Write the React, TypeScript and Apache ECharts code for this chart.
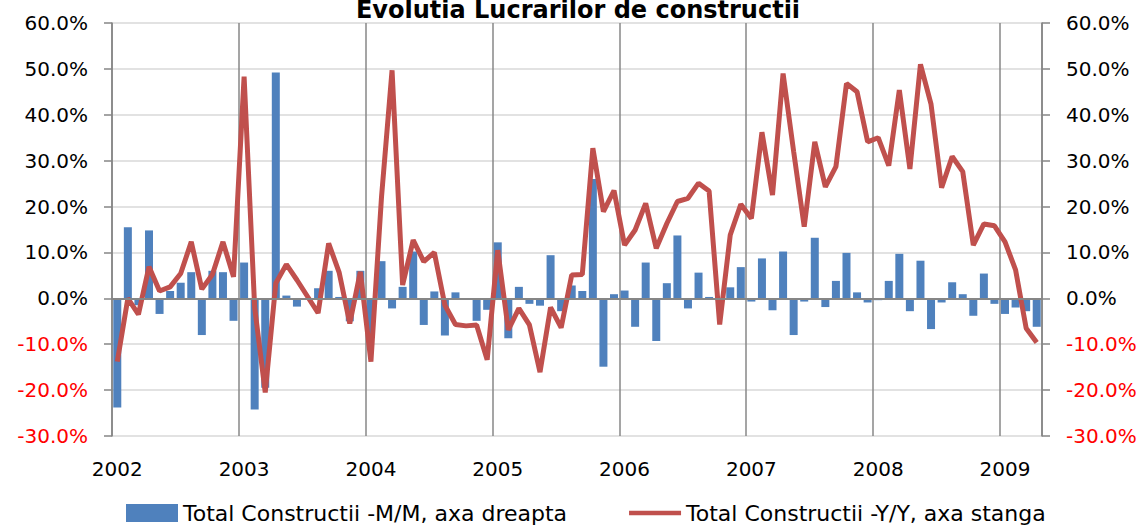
import React, { useEffect, useRef } from "react";
import * as echarts from "echarts";

const years = [2002, 2003, 2004, 2005, 2006, 2007, 2008, 2009];
const monthsInLastYear = 4;

// Total Constructii -M/M (right axis), percent, Jan 2002 .. Apr 2009
const mmValues = [
  -23.8, 15.5, -1.5, 14.8, -3.4, 1.6, 3.4, 5.7, -8.0, 6.0, 5.7, -4.9,
  7.8, -24.2, -19.5, 49.2, 0.6, -1.8, -0.3, 2.2, 6.0, 0.3, -5.0, 6.0,
  -8.0, 8.1, -2.2, 2.5, 10.2, -5.8, 1.5, -8.1, 1.3, 0.0, -4.9, -2.5,
  12.2, -8.7, 2.5, -1.2, -1.6, 9.4, -2.8, 2.8, 1.6, 26.0, -14.9, 0.9,
  1.7, -6.2, 7.8, -9.3, 3.3, 13.7, -2.2, 5.6, 0.3, -0.5, 2.4, 6.8,
  -0.7, 8.7, -2.6, 10.2, -8.0, -0.7, 13.2, -1.9, 3.8, 9.9, 1.3, -0.9,
  -0.4, 3.8, 9.7, -2.8, 8.2, -6.7, -0.9, 3.5, 0.9, -3.8, 5.4, -1.2,
  -3.4, -2.0, -2.8, -6.2,
];

// Total Constructii -Y/Y (left axis), percent
const yyValues = [
  -13.8, 0.0, -3.5, 6.9, 1.6, 2.5, 5.4, 12.3, 2.0, 5.2, 12.3, 4.7,
  48.3, -2.0, -20.5, 3.3, 7.4, 4.0, 0.4, -3.2, 12.0, 5.6, -5.5, 5.8,
  -13.8, 22.0, 49.7, 2.9, 12.7, 8.0, 10.0, -1.5, -5.7, -6.0, -5.8, -13.4,
  10.5, -6.9, -2.2, -5.8, -16.1, -2.0, -6.4, 5.1, 5.2, 32.7, 18.9, 23.5,
  11.6, 14.9, 20.7, 10.9, 16.3, 21.1, 21.8, 25.1, 23.4, -5.7, 13.8, 20.5,
  17.4, 36.2, 22.5, 49.0, 32.0, 15.6, 34.1, 24.3, 28.7, 46.8, 45.0, 34.1,
  35.0, 28.9, 45.4, 28.2, 51.0, 42.3, 24.1, 30.9, 27.6, 11.6, 16.2, 15.8,
  12.3, 6.2, -6.5, -9.6,
];

const axisMin = -30;
const axisMax = 60;
const axisInterval = 10;

const titleText = "Evolutia Lucrarilor de constructii";
const barName = "Total Constructii -M/M, axa dreapta";
const lineName = "Total Constructii -Y/Y, axa stanga";

const categories: string[] = [];
years.forEach((y, yi) => {
  const n = yi === years.length - 1 ? monthsInLastYear : 12;
  for (let m = 1; m <= n; m++) {
    categories.push(`${y}-${m < 10 ? "0" + m : m}`);
  }
});

const FONT = "DejaVu Sans";
const fmtPct = (v: number) => v.toFixed(1) + "%";
const labelColor = (v: any) => (Number(v) < 0 ? "#FF0000" : "#000000");

export default function App() {
  const ref = useRef<HTMLDivElement>(null);
  useEffect(() => {
    if (!ref.current) return;
    const chart = echarts.init(ref.current, undefined, { renderer: "svg" });
    const yAxisCommon = {
      type: "value" as const,
      min: axisMin,
      max: axisMax,
      interval: axisInterval,
      axisLine: { show: true, lineStyle: { color: "#868686", width: 1.5 } },
      axisTick: { show: true, inside: false, length: 8, lineStyle: { color: "#868686", width: 1.5 } },
    };
    chart.setOption({
      animation: false,
      backgroundColor: "#ffffff",
      graphic: [
        {
          type: "text",
          x: 578,
          y: 10,
          style: {
            text: titleText,
            fill: "#000000",
            font: `bold 24px "${FONT}"`,
            textAlign: "center",
            textVerticalAlign: "middle",
          },
        },
      ],
      grid: { left: 112, right: 101, top: 23, bottom: 89, containLabel: false },
      legend: {
        left: 121,
        top: 497,
        itemWidth: 52,
        itemHeight: 18,
        itemGap: 62,
        textStyle: { fontFamily: FONT, fontSize: 22, color: "#000000", lineHeight: 22 },
        data: [
          { name: barName, icon: "rect" },
          { name: lineName, icon: "path://M0,0H56V5H0Z" },
        ],
      },
      xAxis: {
        type: "category",
        data: categories,
        boundaryGap: true,
        axisLine: { show: false, onZero: false },
        axisTick: { show: false },
        axisLabel: {
          interval: (i: number) => i % 12 === 0,
          formatter: (v: string) => v.slice(0, 4),
          fontFamily: FONT,
          fontSize: 20,
          color: "#000000",
          margin: 23,
        },
        splitLine: {
          show: true,
          interval: (i: number) => i % 12 === 0,
          lineStyle: { color: "#878787", width: 1.5 },
        },
      },
      yAxis: [
        {
          ...yAxisCommon,
          position: "left",
          axisLabel: {
            formatter: fmtPct,
            fontFamily: FONT,
            fontSize: 20,
            margin: 24,
            color: labelColor,
          },
          splitLine: { show: true, lineStyle: { color: "#D9D9D9", width: 1.5 } },
        },
        {
          ...yAxisCommon,
          position: "right",
          axisLabel: {
            formatter: fmtPct,
            fontFamily: FONT,
            fontSize: 20,
            margin: 24,
            color: labelColor,
          },
          splitLine: { show: false },
        },
      ],
      series: [
        {
          name: barName,
          type: "bar",
          yAxisIndex: 1,
          data: mmValues,
          barWidth: 8,
          itemStyle: { color: "#4F81BD" },
          z: 2,
          markLine: {
            silent: true,
            symbol: "none",
            label: { show: false },
            lineStyle: { color: "#868686", type: "solid", width: 2 },
            data: [{ yAxis: 0 }],
          },
        },
        {
          name: lineName,
          type: "line",
          yAxisIndex: 0,
          data: yyValues,
          symbol: "none",
          showSymbol: false,
          lineStyle: { color: "#C0504D", width: 5 },
          itemStyle: { color: "#C0504D" },
          z: 3,
        },
      ],
    });
    return () => chart.dispose();
  }, []);
  return (
    <div
      ref={ref}
      style={{ position: "fixed", left: 0, top: 0, width: 1143, height: 525 }}
    />
  );
}
